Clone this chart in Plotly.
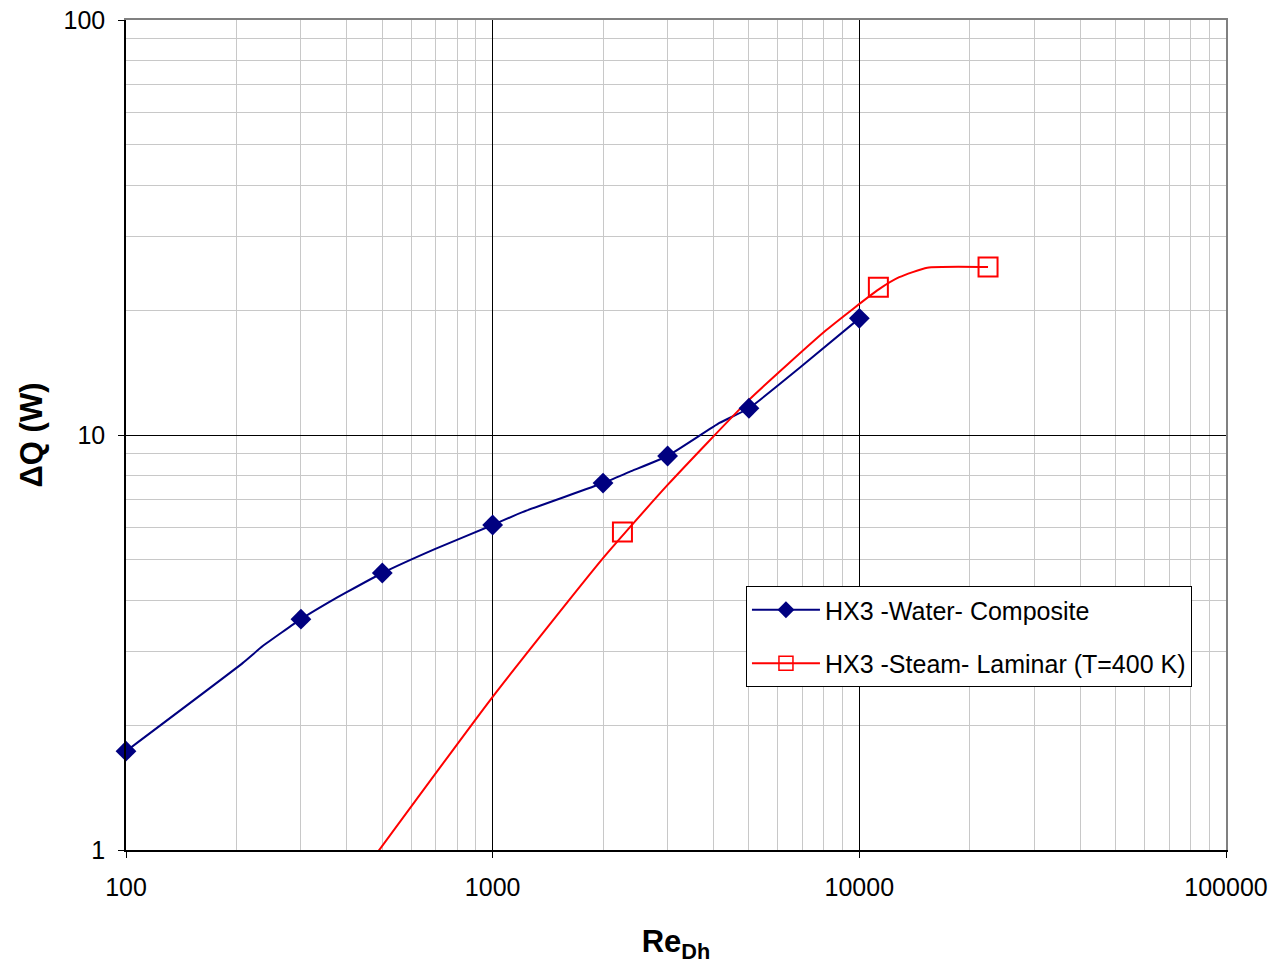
import plotly.graph_objects as go

# ---- data ----
water_line_re = [100, 208, 236, 300, 355, 400, 500, 695, 1000, 1206, 2000, 2362, 3000, 4155, 5000, 6862, 10000]
water_line_dq = [1.73, 2.82, 3.10, 3.60, 3.94, 4.18, 4.65, 5.31, 6.07, 6.52, 7.66, 8.15, 8.90, 10.69, 11.6, 14.5, 19.1]
water_marker_re = [100, 300, 500, 1000, 2000, 3000, 5000, 10000]
water_marker_dq = [1.73, 3.60, 4.65, 6.07, 7.66, 8.90, 11.6, 19.1]

steam_line_re = [470, 1000, 2000, 3000, 5000, 8128, 11270, 12850, 15320, 22440]
steam_line_dq = [0.95, 2.34, 5.05, 7.58, 12.15, 17.9, 22.4, 24.0, 25.3, 25.4]
steam_marker_re = [2259, 11270, 22440]
steam_marker_dq = [5.84, 22.7, 25.4]

water_name = "HX3 -Water- Composite"
steam_name = "HX3 -Steam- Laminar (T=400 K)"

x_ticks = [100, 1000, 10000, 100000]
x_ticktext = ["100", "1000", "10000", "100000"]
y_ticks = [1, 10, 100]
y_ticktext = ["1", "10", "100"]
x_minor = [m * d for d in (100, 1000, 10000) for m in range(2, 10)]
y_minor = [m * d for d in (1, 10) for m in range(2, 10)]

BLUE = "#000080"
RED = "#FF0000"
FONT = "Liberation Sans, Arial, sans-serif"

fig = go.Figure()

fig.add_trace(go.Scatter(x=water_line_re, y=water_line_dq, mode="lines",
                         line=dict(color=BLUE, width=2, shape="spline", smoothing=0.4),
                         showlegend=False, hoverinfo="skip"))
fig.add_trace(go.Scatter(x=steam_line_re, y=steam_line_dq, mode="lines",
                         line=dict(color=RED, width=2, shape="spline", smoothing=0.5),
                         showlegend=False, hoverinfo="skip"))
fig.add_trace(go.Scatter(x=water_marker_re, y=water_marker_dq, mode="markers",
                         marker=dict(symbol="diamond", size=16, color=BLUE),
                         showlegend=False, cliponaxis=False))
fig.add_trace(go.Scatter(x=steam_marker_re, y=steam_marker_dq, mode="markers",
                         marker=dict(symbol="square-open", size=19, color=RED, line=dict(width=2, color=RED)),
                         showlegend=False, cliponaxis=False))

# legend entries (drawn on overlay axes)
fig.add_trace(go.Scatter(x=[None], y=[None], mode="lines+markers", name=water_name,
                         line=dict(color=BLUE, width=2), legendgroup="a",
                         marker=dict(symbol="diamond", size=13, color=BLUE),
                         xaxis="x2", yaxis="y2"))
fig.add_trace(go.Scatter(x=[None], y=[None], mode="lines+markers", name=steam_name,
                         line=dict(color=RED, width=2), legendgroup="b",
                         marker=dict(symbol="square-open", size=14, color=RED, line=dict(width=1.5, color=RED)),
                         xaxis="x2", yaxis="y2"))

fig.update_layout(
    width=1281, height=964,
    margin=dict(l=126, r=55, t=20, b=114, autoexpand=False),
    paper_bgcolor="white", plot_bgcolor="white",
    font=dict(family=FONT, color="black", size=25),
    xaxis=dict(
        type="log", range=[2, 5], tickvals=x_ticks, ticktext=x_ticktext,
        showgrid=False, zeroline=False, automargin=False,
        showline=True, linecolor="black", linewidth=1.5,
        ticks="outside", ticklen=6, tickcolor="black", tickwidth=1,
        tickfont=dict(size=25), ticklabelstandoff=8,
        minor=dict(tickvals=x_minor, showgrid=True, gridcolor="#c8c8c8", gridwidth=1, ticks=""),
        title=dict(text="<b>Re<sub>Dh</sub></b>", font=dict(size=31), standoff=36),
    ),
    yaxis=dict(
        type="log", range=[0, 2], tickvals=y_ticks, ticktext=y_ticktext,
        showgrid=False, zeroline=False, automargin=False,
        showline=True, linecolor="black", linewidth=1.5,
        ticks="outside", ticklen=6, tickcolor="black", tickwidth=1,
        tickfont=dict(size=25), ticklabelstandoff=8,
        minor=dict(tickvals=y_minor, showgrid=True, gridcolor="#c8c8c8", gridwidth=1, ticks=""),
        title=dict(text="<b>\u0394Q (W)</b>", font=dict(size=31), standoff=12),
    ),
    xaxis2=dict(
        type="log", range=[2, 5], overlaying="x", side="top", anchor="y2",
        tickvals=[1000, 10000], showticklabels=False, ticks="", automargin=False,
        showgrid=True, gridcolor="black", gridwidth=1, zeroline=False,
        showline=True, linecolor="#808080", linewidth=1.5,
    ),
    yaxis2=dict(
        type="log", range=[0, 2], overlaying="y", side="right", anchor="x2",
        tickvals=[10], showticklabels=False, ticks="", automargin=False,
        showgrid=True, gridcolor="black", gridwidth=1, zeroline=False,
        showline=True, linecolor="#808080", linewidth=1.5,
    ),
    legend=dict(
        x=0.5636, y=0.318, xanchor="left", yanchor="top",
        bgcolor="white", bordercolor="black", borderwidth=1,
        font=dict(size=25, color="black"),
        traceorder="grouped", tracegroupgap=18, itemwidth=68,
    ),
    showlegend=True,
)

fig.write_html("out.html")
